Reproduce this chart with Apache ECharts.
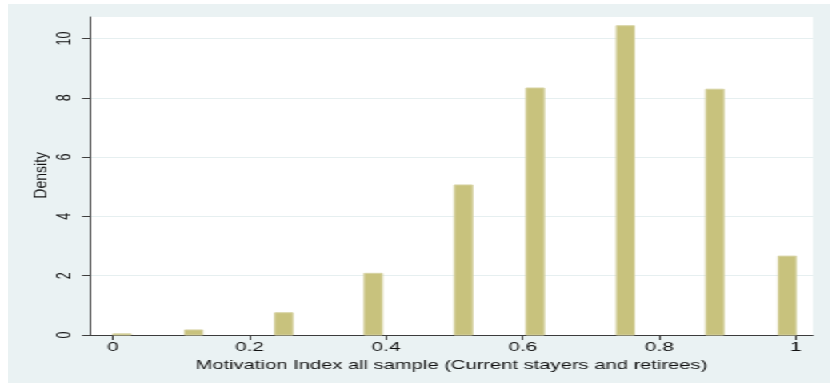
<!DOCTYPE html>
<html>
<head>
<meta charset="utf-8">
<script src="https://cdn.jsdelivr.net/npm/echarts@6/dist/echarts.min.js"></script>
<style>
  html, body { margin: 0; padding: 0; background: #ffffff; width: 830px; height: 384px; overflow: hidden; }
  /* graph region is drawn narrow and widened, giving the wide lettering of the exported figure */
  #chart { position: absolute; left: 8px; top: 4px; width: 514px; height: 379px;
           transform: scaleX(1.6); transform-origin: 0 0; background: #EAF2F3; }
</style>
</head>
<body>
<div id="chart"></div>
<script>
// Histogram bins: left edge of each occupied bin and its density
const binStarts = [0, 0.105, 0.237, 0.368, 0.5, 0.605, 0.737, 0.868, 0.974];
const densities = [0.04, 0.17, 0.75, 2.08, 5.06, 8.33, 10.43, 8.29, 2.66];
const binWidth = 0.0263;

// Axis tick values
const xTicks = [0, 0.2, 0.4, 0.6, 0.8, 1];
const yTicks = [0, 2, 4, 6, 8, 10];

const xTitle = 'Motivation Index all sample (Current stayers and retirees)';
const yTitle = 'Density';

const STRETCH = 1.6;
const FONT = '"Liberation Sans", Arial, Helvetica, sans-serif';
const TEXT = '#111111';
const AXIS = '#3c3c3c';

const chart = echarts.init(document.getElementById('chart'), null, { renderer: 'canvas' });

chart.setOption({
  animation: false,
  backgroundColor: '#EAF2F3',
  grid: {
    left: 51.25, right: 10.9, top: 13, bottom: 48,
    show: true, backgroundColor: '#ffffff', borderWidth: 0
  },
  xAxis: {
    type: 'value',
    min: -0.0337, max: 1.0249,
    name: xTitle,
    nameLocation: 'middle',
    nameGap: 22,
    nameTextStyle: { fontFamily: FONT, fontSize: 12.6, color: TEXT },
    axisLine: { show: true, onZero: false, lineStyle: { color: AXIS, width: 1 } },
    axisTick: { show: true, length: 5, customValues: xTicks, lineStyle: { color: AXIS } },
    axisLabel: {
      customValues: xTicks, margin: 6,
      fontFamily: FONT, fontSize: 13, color: TEXT,
      formatter: v => String(v)
    },
    splitLine: { show: false }
  },
  yAxis: {
    type: 'value',
    min: 0, max: 10.725,
    axisLine: { show: true, onZero: false, lineStyle: { color: AXIS, width: 1 } },
    axisTick: { show: true, length: 5, customValues: yTicks, lineStyle: { color: AXIS } },
    axisLabel: {
      customValues: yTicks, rotate: 90, margin: 9,
      fontFamily: FONT, fontSize: 12.5, color: TEXT,
      formatter: v => String(v)
    },
    splitLine: { show: true, lineStyle: { color: '#E6EFF0', width: 1 } }
  },
  graphic: [{
    type: 'text',
    x: 21.25, y: 171.3,
    rotation: Math.PI / 2,
    scaleY: 0.75,
    style: {
      text: yTitle, fontFamily: FONT, fontSize: 14, fill: TEXT,
      align: 'center', verticalAlign: 'middle'
    }
  }],
  series: [{
    type: 'custom',
    data: binStarts.map((x, i) => [x, densities[i]]),
    renderItem: (params, api) => {
      const x0 = api.value(0);
      const top = api.coord([x0, api.value(1)]);
      const base = api.coord([x0 + binWidth, 0]);
      return {
        type: 'rect',
        shape: { x: top[0], y: top[1], width: base[0] - top[0], height: base[1] - top[1] },
        style: { fill: '#C8C27D', stroke: '#D6D2A2', lineWidth: 1 }
      };
    }
  }]
});
</script>
</body>
</html>
